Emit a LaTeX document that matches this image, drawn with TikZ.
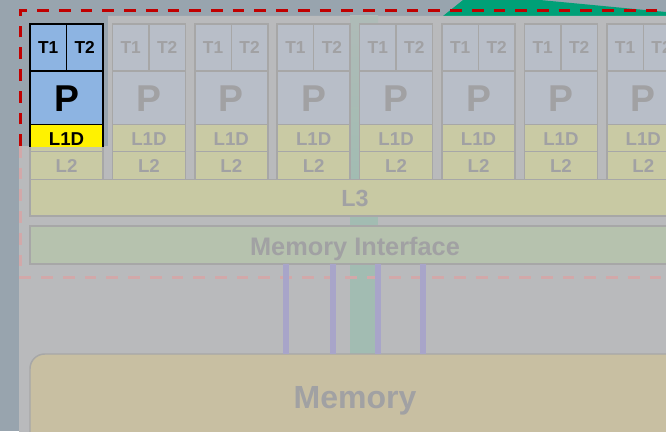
\documentclass[tikz,border=0pt]{standalone}
\usepackage{fontspec}
\setmainfont{Liberation Sans}
\definecolor{bgblue}{HTML}{98A4AE}
\definecolor{overlaygray}{HTML}{B9BABC}
\definecolor{topgreen}{HTML}{00A077}
\definecolor{bandgreen}{HTML}{A2BCB2}
\definecolor{fadeblue}{HTML}{B8BEC8}
\definecolor{fadeyellow}{HTML}{C9CAA4}
\definecolor{fadeborder}{HTML}{A7A7A7}
\definecolor{fadetext}{HTML}{A1A1A3}
\definecolor{lthreefill}{HTML}{C8C9A3}
\definecolor{mifill}{HTML}{B6C2AE}
\definecolor{memfill}{HTML}{C8BFA2}
\definecolor{buspurple}{HTML}{A8A5C9}
\definecolor{fadedred}{HTML}{D2A8A9}
\definecolor{strongred}{HTML}{C00000}
\definecolor{coreblue}{HTML}{8DB4E2}
\newcommand\myTfont{\bfseries\fontsize{13}{15}\selectfont}
\newcommand\myPfont{\bfseries\fontsize{28}{32}\selectfont}
\newcommand\myLfont{\bfseries\fontsize{14}{16}\selectfont}
\newcommand\myLthreefont{\bfseries\fontsize{17.5}{20}\selectfont}
\newcommand\myMIfont{\bfseries\fontsize{19}{22}\selectfont}
\newcommand\myMemfont{\bfseries\fontsize{24}{28}\selectfont}
\begin{document}
\begin{tikzpicture}[x=0.75pt,y=-0.75pt,
  fadeline/.style={draw=fadeborder,line width=1.1pt},
  fadeblu/.style={fadeline,fill=fadeblue},
  fadeyel/.style={fadeline,fill=fadeyellow},
  fadetxt/.style={text=fadetext,inner sep=0pt,anchor=base},
  hicell/.style={draw=black,line width=0.9pt,fill=coreblue},
  hiyel/.style={draw=black,line width=0.9pt,fill=yellow},
  hitxt/.style={text=black,inner sep=0pt,anchor=base},
  reddash/.style={line width=2.25pt,dash pattern=on 8.8pt off 7.5pt},
  bus/.style={draw=buspurple,line width=4.5pt}
]
\useasboundingbox (0,0) rectangle (666,431);
\clip (0,0) rectangle (666,431);
% backgrounds
\fill[bgblue] (0,0) rectangle (666,431);
\fill[topgreen] (463,0) -- (540,0) -- (666,12) -- (666,16) -- (443,16) -- cycle;
\fill[overlaygray] (19,146) -- (108,146) -- (108,16) -- (680,16) -- (680,440) -- (19,440) -- cycle;
\shade[top color=overlaygray!55!bandgreen,bottom color=bandgreen] (350,16) rectangle (378,180);
\fill[bandgreen] (350,179) rectangle (378,354);
% faded cores
\foreach \i in {0,...,7}{
  \pgfmathsetmacro{\x}{30+82.4*\i}
  \path[fadeblu] (\x,24) rectangle ++(36.5,47);
  \path[fadeblu] (\x+36.5,24) rectangle ++(36.5,47);
  \path[fadeblu] (\x,71) rectangle ++(73,53.7);
  \path[fadeyel] (\x,124.7) rectangle ++(73,27);
  \path[fadeyel] (\x,151.7) rectangle ++(73,27.6);
  \node[fadetxt,font=\myTfont] (t1-\i) at (\x+18.25,53.5) {T1};
  \node[fadetxt,font=\myTfont] (t2-\i) at (\x+54.75,53.5) {T2};
  \node[fadetxt,font=\myPfont] (p-\i) at (\x+36.5,112) {P};
  \node[fadetxt,font=\myLfont] (l1d-\i) at (\x+36.5,145.5) {L1D};
  \node[fadetxt,font=\myLfont] (l2-\i) at (\x+36.5,172.7) {L2};
}
% L3
\path[fadeline,fill=lthreefill] (30,179.3) rectangle (680,216);
\node[fadetxt,font=\myLthreefont] (l3) at (355,206.7) {L3};
% Memory interface
\path[fadeline,fill=mifill] (30,226) rectangle (680,264);
\node[fadetxt,font=\myMIfont] (mi) at (355,255) {Memory Interface};
% Memory
\path[fadeline,fill=memfill,rounded corners=11pt] (30,354) rectangle (700,470);
\node[fadetxt,font=\myMemfont] (mem) at (355,408) {Memory};
% dashed boundary (faded part)
\draw[reddash,draw=fadedred] (20,146) -- (20,277) -- (680,277);
% buses
\foreach \bx [count=\k] in {286,332.5,378,423}{
  \coordinate (mib\k) at (\bx,264);
  \coordinate (memb\k) at (\bx,354);
  \draw[bus] (mib\k) -- (memb\k);
}
% highlighted core
\begin{scope}
  \clip (19,16) rectangle (108,146);
  \path[hicell] (30,24) rectangle ++(36.5,47);
  \path[hicell] (66.5,24) rectangle ++(36.5,47);
  \path[hicell] (30,71) rectangle ++(73,53.7);
  \path[hiyel] (30,124.7) rectangle ++(73,27);
  \node[hitxt,font=\myTfont] (ht1) at (48.25,53.5) {T1};
  \node[hitxt,font=\myTfont] (ht2) at (84.75,53.5) {T2};
  \node[hitxt,font=\myPfont] (hp) at (66.5,112) {P};
  \node[hitxt,font=\myLfont] (hl1d) at (66.5,145.5) {L1D};
\end{scope}
% dashed boundary (strong part)
\draw[reddash,draw=strongred] (20,146) -- (20,11) -- (680,11);
\end{tikzpicture}
\end{document}
